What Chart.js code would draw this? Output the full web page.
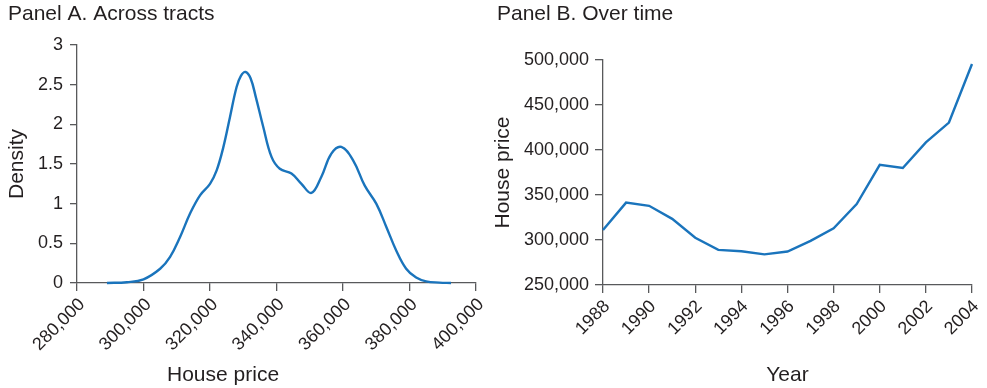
<!DOCTYPE html>
<html>
<head>
<meta charset="utf-8">
<title>House prices</title>
<script src="https://cdn.jsdelivr.net/npm/chart.js@4.4.1/dist/chart.umd.min.js"></script>
<style>
  html, body { margin: 0; padding: 0; background: #fff; }
  #wrap { position: relative; width: 987px; height: 388px; }
  #panelA { position: absolute; left: 0; top: 0; }
  #panelB { position: absolute; left: 490px; top: 0; }
</style>
</head>
<body>
<div id="wrap">
  <canvas id="panelA" width="490" height="388"></canvas>
  <canvas id="panelB" width="497" height="388"></canvas>
</div>
<script>
// Panel A: kernel density of tract house prices
const tractPrices = [
  289000, 295000, 300000, 305000, 308000, 311000, 314000, 317000, 320000,
  322000, 324000, 326000, 328000, 329300, 330700, 332200, 333800, 336000,
  338500, 341000, 344500, 347500, 350500, 353500, 356500, 359500, 363000,
  366500, 370000, 373000, 376000, 379000, 382000, 385000, 389000, 392500,
];
const tractDensity = [
  0, 0.01, 0.047, 0.18, 0.33, 0.58, 0.875, 1.105, 1.25,
  1.42, 1.71, 2.09, 2.47, 2.61, 2.66, 2.58, 2.34, 1.97,
  1.59, 1.44, 1.38, 1.25, 1.135, 1.34, 1.63, 1.715, 1.55,
  1.23, 1.0, 0.71, 0.41, 0.18, 0.068, 0.02, 0.005, 0,
];

// Panel B: average house price by year
const years = [
  1988, 1989, 1990, 1991, 1992, 1993, 1994, 1995, 1996,
  1997, 1998, 1999, 2000, 2001, 2002, 2003, 2004,
];
const yearPrices = [
  311000, 341500, 338000, 323500, 302500, 289000, 287500, 284000, 287200,
  299000, 313000, 340000, 383500, 380000, 408500, 430500, 495500,
];

const densityTicks = { min: 0, max: 3, step: 0.5 };
const priceTicks = { min: 280000, max: 400000, step: 20000 };
const yearTicks = { min: 1988, max: 2004, step: 2 };
const levelTicks = { min: 250000, max: 500000, step: 50000 };

const TEXT = "#231f20";
const AXIS = "#58595b";
const LINE = "#1a74bc";
const TICK_SIZE = 18;
const TITLE_SIZE = 21;

Chart.defaults.font.family = '"Liberation Sans", Arial, Helvetica, sans-serif';
Chart.defaults.color = TEXT;
Chart.defaults.devicePixelRatio = 1;

// axis title placed freely under the x axis
const xCaption = {
  id: "xCaption",
  afterDraw(chart, args, opts) {
    if (!opts.text) return;
    const { ctx, chartArea } = chart;
    ctx.save();
    ctx.font = `${opts.size}px ${Chart.defaults.font.family}`;
    ctx.fillStyle = TEXT;
    ctx.textAlign = "center";
    ctx.textBaseline = "middle";
    const x = chartArea.left + (chartArea.right - chartArea.left) * opts.at;
    ctx.fillText(opts.text, x, opts.y);
    ctx.restore();
  },
};

function axisStyle(tickLength) {
  return {
    grid: {
      drawOnChartArea: false,
      drawTicks: true,
      tickLength: tickLength,
      color: AXIS,
      lineWidth: 1.3,
    },
    border: { color: AXIS, width: 1.3 },
  };
}

// fixed height for the bottom axis, rotated labels need no extra room on the right
function bottomAxisFit(height) {
  return (scale) => {
    scale.height = height;
    scale.paddingRight = 0;
  };
}

new Chart(document.getElementById("panelA"), {
  type: "line",
  data: {
    datasets: [
      {
        data: tractPrices.map((p, i) => ({ x: p, y: tractDensity[i] })),
        borderColor: LINE,
        borderWidth: 2.4,
        pointRadius: 0,
        tension: 0.4,
        fill: false,
        clip: 6,
      },
    ],
  },
  options: {
    responsive: false,
    animation: false,
    layout: { padding: { left: 8, right: 14, top: 0, bottom: 0 } },
    plugins: {
      legend: { display: false },
      tooltip: { enabled: false },
      title: {
        display: true,
        text: "Panel A. Across tracts",
        align: "start",
        color: TEXT,
        font: { size: TITLE_SIZE, weight: "normal" },
        padding: { top: 2, bottom: 17.8 },
      },
      xCaption: { text: "House price", size: TITLE_SIZE, at: 0.366, y: 375 },
    },
    scales: {
      x: {
        type: "linear",
        min: priceTicks.min,
        max: priceTicks.max,
        ...axisStyle(8),
        ticks: {
          stepSize: priceTicks.step,
          autoSkip: false,
          minRotation: 45,
          maxRotation: 45,
          padding: 3,
          labelOffset: 5,
          color: TEXT,
          font: { size: TICK_SIZE },
        },
        afterFit: bottomAxisFit(105),
      },
      y: {
        min: densityTicks.min,
        max: densityTicks.max,
        ...axisStyle(7),
        ticks: {
          stepSize: densityTicks.step,
          padding: 7,
          color: TEXT,
          font: { size: TICK_SIZE },
          callback: (v) => String(v),
        },
        title: {
          display: true,
          text: "Density",
          color: TEXT,
          font: { size: TITLE_SIZE },
          padding: { top: -3, bottom: 0 },
        },
        afterFit(scale) {
          scale.width = 69;
        },
      },
    },
  },
  plugins: [xCaption],
});

new Chart(document.getElementById("panelB"), {
  type: "line",
  data: {
    datasets: [
      {
        data: years.map((yr, i) => ({ x: yr, y: yearPrices[i] })),
        borderColor: LINE,
        borderWidth: 2.4,
        pointRadius: 0,
        tension: 0,
        fill: false,
        clip: 6,
      },
    ],
  },
  options: {
    responsive: false,
    animation: false,
    layout: { padding: { left: 7, right: 15, top: 0, bottom: 0 } },
    plugins: {
      legend: { display: false },
      tooltip: { enabled: false },
      title: {
        display: true,
        text: "Panel B. Over time",
        align: "start",
        color: TEXT,
        font: { size: TITLE_SIZE, weight: "normal" },
        padding: { top: 2, bottom: 32.8 },
      },
    },
    scales: {
      x: {
        type: "linear",
        min: yearTicks.min,
        max: yearTicks.max,
        ...axisStyle(8),
        ticks: {
          stepSize: yearTicks.step,
          autoSkip: false,
          minRotation: 45,
          maxRotation: 45,
          padding: 3,
          labelOffset: 4,
          color: TEXT,
          font: { size: TICK_SIZE },
          callback: (v) => String(v),
        },
        title: {
          display: true,
          text: "Year",
          color: TEXT,
          font: { size: TITLE_SIZE },
          padding: { top: 0, bottom: 0 },
        },
        afterFit: bottomAxisFit(103),
      },
      y: {
        min: levelTicks.min,
        max: levelTicks.max,
        ...axisStyle(8),
        ticks: {
          stepSize: levelTicks.step,
          padding: 6,
          color: TEXT,
          font: { size: TICK_SIZE },
        },
        title: {
          display: true,
          text: "House price",
          color: TEXT,
          font: { size: TITLE_SIZE },
          padding: { top: -6, bottom: 0 },
        },
        afterFit(scale) {
          scale.width = 106;
        },
      },
    },
  },
});
</script>
</body>
</html>
